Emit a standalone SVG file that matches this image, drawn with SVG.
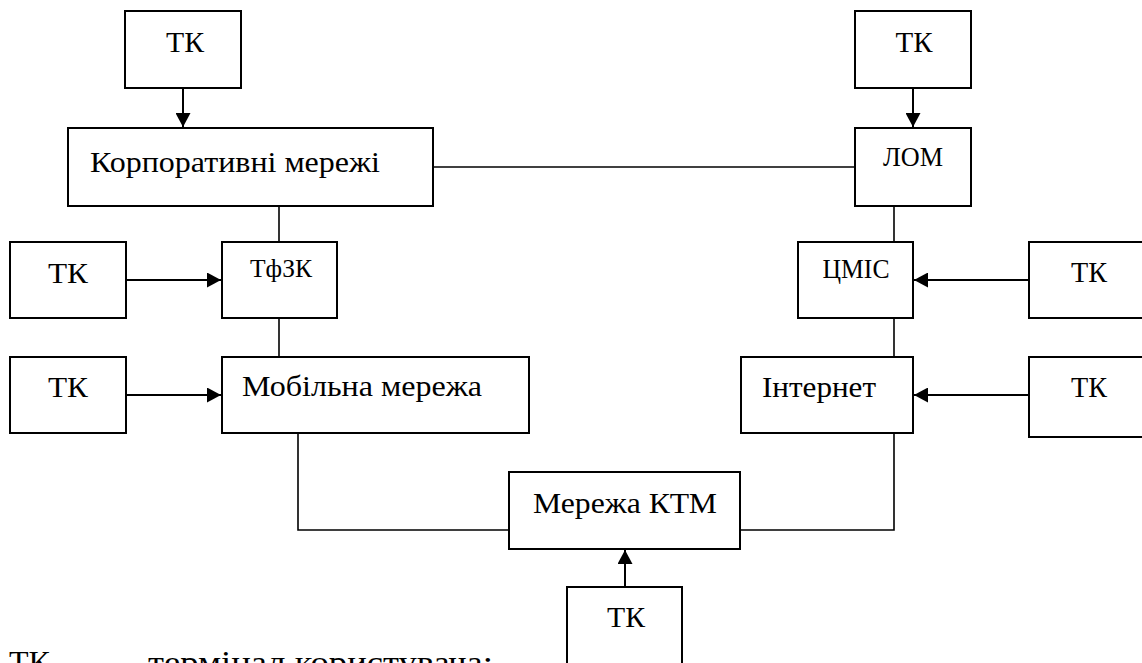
<svg xmlns="http://www.w3.org/2000/svg" width="1142" height="663" viewBox="0 0 1142 663">
<style>
.box{fill:#fff;stroke:#000;stroke-width:2}
.t{font-family:'Liberation Serif','Times New Roman',serif;font-size:30px;fill:#000}
.s{font-size:27px}
.c{text-anchor:middle}
.ln{fill:none;stroke:#000;stroke-width:1.6}
.ar{fill:none;stroke:#000;stroke-width:2;marker-end:url(#ah)}
</style>
<defs>
<marker id="ah" markerUnits="userSpaceOnUse" markerWidth="14" markerHeight="15" refX="14" refY="7.5" orient="auto">
<path d="M0,0 L14,7.5 L0,15 Z" fill="#000"/>
</marker>
</defs>
<g id="connectors">
<line class="ar" x1="183" y1="88" x2="183" y2="127"/>
<line class="ar" x1="913" y1="88" x2="913" y2="127"/>
<line class="ln" x1="433" y1="167" x2="855" y2="167"/>
<line class="ln" x1="279" y1="206" x2="279" y2="242"/>
<line class="ln" x1="894" y1="206" x2="894" y2="242"/>
<line class="ar" x1="126" y1="280" x2="221" y2="280"/>
<line class="ar" x1="1029" y1="280" x2="914" y2="280"/>
<line class="ln" x1="279" y1="318" x2="279" y2="357"/>
<line class="ln" x1="894" y1="318" x2="894" y2="357"/>
<line class="ar" x1="126" y1="395" x2="221" y2="395"/>
<line class="ar" x1="1029" y1="395" x2="914" y2="395"/>
<polyline class="ln" points="298,433 298,530 509,530"/>
<polyline class="ln" points="740,530 894,530 894,433"/>
<line class="ar" x1="625" y1="587" x2="625" y2="550"/>
</g>
<g id="tk-top-left"><rect class="box" x="125" y="11" width="116" height="77"/><text class="t c" x="185" y="52" textLength="38" lengthAdjust="spacingAndGlyphs">ТК</text></g>
<g id="tk-top-right"><rect class="box" x="855" y="11" width="116" height="77"/><text class="t c" x="914" y="52" textLength="37" lengthAdjust="spacingAndGlyphs">ТК</text></g>
<g id="korp"><rect class="box" x="68" y="128" width="365" height="78"/><text class="t" x="90" y="172" textLength="290" lengthAdjust="spacingAndGlyphs">Корпоративні мережі</text></g>
<g id="lom"><rect class="box" x="855" y="128" width="116" height="78"/><text class="t c s" x="913" y="166" textLength="60" lengthAdjust="spacingAndGlyphs">ЛОМ</text></g>
<g id="tk-l1"><rect class="box" x="10" y="242" width="116" height="76"/><text class="t c" x="68" y="283" textLength="40" lengthAdjust="spacingAndGlyphs">ТК</text></g>
<g id="tfzk"><rect class="box" x="222" y="242" width="115" height="76"/><text class="t c" style="font-size:26px" x="281" y="277" textLength="62" lengthAdjust="spacingAndGlyphs">ТфЗК</text></g>
<g id="cmis"><rect class="box" x="798" y="242" width="115" height="76"/><text class="t c s" x="856" y="278" textLength="67" lengthAdjust="spacingAndGlyphs">ЦМІС</text></g>
<g id="tk-r1"><rect class="box" x="1029" y="242" width="120" height="76"/><text class="t c" x="1089" y="282" textLength="36" lengthAdjust="spacingAndGlyphs">ТК</text></g>
<g id="tk-l2"><rect class="box" x="10" y="357" width="116" height="76"/><text class="t c" x="68" y="397" textLength="40" lengthAdjust="spacingAndGlyphs">ТК</text></g>
<g id="mobile"><rect class="box" x="222" y="357" width="307" height="76"/><text class="t" x="242" y="396" textLength="240" lengthAdjust="spacingAndGlyphs">Мобільна мережа</text></g>
<g id="internet"><rect class="box" x="741" y="357" width="172" height="76"/><text class="t" x="762" y="397" textLength="114" lengthAdjust="spacingAndGlyphs">Інтернет</text></g>
<g id="tk-r2"><rect class="box" x="1029" y="357" width="120" height="80"/><text class="t c" x="1089" y="397" textLength="36" lengthAdjust="spacingAndGlyphs">ТК</text></g>
<g id="ktm"><rect class="box" x="509" y="472" width="231" height="77"/><text class="t c" x="625" y="513" textLength="184" lengthAdjust="spacingAndGlyphs">Мережа КТМ</text></g>
<g id="tk-bottom"><rect class="box" x="567" y="587" width="115" height="90"/><text class="t c" x="626" y="627" textLength="38" lengthAdjust="spacingAndGlyphs">ТК</text></g>
<g id="legend"><text class="t" style="font-size:32px" x="9" y="673">ТК<tspan x="100">–</tspan><tspan x="148" textLength="345" lengthAdjust="spacingAndGlyphs">термінал користувача;</tspan></text></g>
</svg>
